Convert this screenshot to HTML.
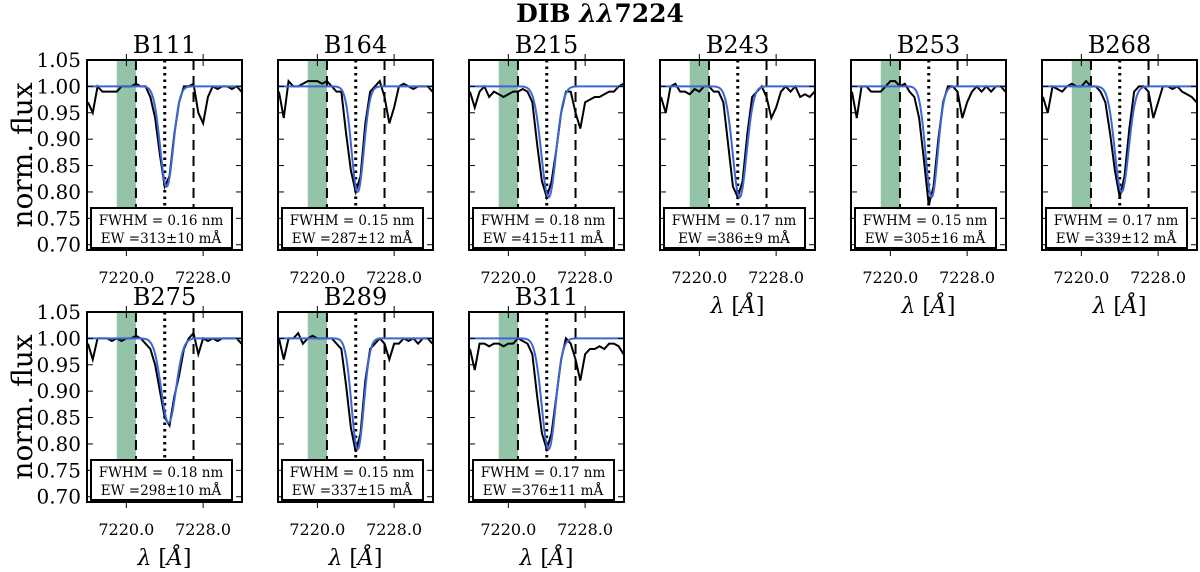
<!DOCTYPE html>
<html><head><meta charset="utf-8"><style>
body{margin:0;background:#fff;}
svg{display:block;font-family:"DejaVu Serif","Liberation Serif",serif;}
</style></head><body>
<svg id="fig" width="1200" height="572" viewBox="0 0 1200 572">
<text x="600" y="22" text-anchor="middle" font-size="25" font-weight="bold">DIB <tspan font-style="italic">λλ</tspan>7224</text>
</svg>
<script>
const names=["B111","B164","B215","B243","B253","B268","B275","B289","B311"];
const fwhmLabels=["0.16","0.15","0.18","0.17","0.15","0.17","0.18","0.15","0.17"];
const ewLabels=["313±10","287±12","415±11","386±9","305±16","339±12","298±10","337±15","376±11"];
const fitDepth=[0.19,0.20,0.21,0.21,0.21,0.20,0.16,0.21,0.21];
const fitCenter=[7224.2,7224.2,7224.2,7224.2,7224.3,7224.2,7224.4,7224.2,7224.2];
const fitFwhm=[1.6,1.5,1.8,1.7,1.5,1.7,1.8,1.5,1.7];
const waveStart=7216, waveStep=0.5;
const flux1=[0.97,0.95,1.00,0.99,0.99,0.99,0.99,1.00,1.00,1.00,1.005,1.00,1.00,0.98,0.94,0.87,0.81,0.83,0.91,0.97,1.00,1.00,1.005,0.95,0.93,0.98,1.00,0.995,1.00,1.00,0.995,1.00,0.99];
const flux2=[0.99,0.94,1.01,1.00,1.00,1.005,1.01,1.01,1.01,1.005,1.01,1.00,0.99,0.99,0.91,0.84,0.80,0.83,0.93,0.99,1.00,1.01,0.98,0.93,0.96,1.00,1.005,1.00,0.995,1.00,1.00,1.00,0.99];
const flux3=[0.99,0.96,0.99,1.00,0.98,0.99,0.985,0.98,0.985,0.99,0.99,0.995,0.99,0.97,0.89,0.82,0.79,0.82,0.88,0.95,0.99,0.99,0.95,0.92,0.97,0.975,0.98,0.98,0.985,0.99,0.99,1.00,1.005];
const flux4=[0.98,0.95,1.00,1.005,0.99,0.99,0.985,0.995,0.99,1.00,1.00,0.99,0.99,0.97,0.89,0.81,0.79,0.82,0.91,0.98,0.99,1.00,0.98,0.94,0.96,0.99,1.00,0.99,1.00,0.98,0.985,0.98,0.99];
const flux5=[0.99,0.94,1.00,1.00,0.99,0.99,0.99,1.00,1.01,1.01,1.00,1.005,0.99,0.98,0.94,0.86,0.775,0.81,0.90,0.97,1.00,1.00,0.99,0.94,0.97,0.99,1.00,0.99,1.00,0.99,1.00,1.00,0.99];
const flux6=[0.98,0.95,1.00,0.995,0.99,1.00,1.005,1.00,1.00,1.01,1.00,1.00,0.99,0.97,0.91,0.84,0.79,0.83,0.92,0.99,1.00,1.00,0.99,0.94,0.97,1.00,1.00,0.995,1.00,0.99,0.985,0.98,0.97];
const flux7=[0.99,0.96,1.00,1.00,1.00,0.995,1.00,0.995,1.00,1.00,1.005,1.00,0.99,0.98,0.95,0.90,0.85,0.835,0.89,0.93,0.98,1.00,1.01,0.97,1.00,0.995,1.00,0.995,1.00,1.00,1.00,1.00,0.99];
const flux8=[1.00,0.96,1.00,1.00,1.01,0.99,1.00,1.005,1.00,1.00,1.00,1.00,0.99,0.98,0.91,0.83,0.785,0.82,0.92,0.98,0.99,1.00,0.99,0.96,0.99,0.99,1.00,0.995,1.00,0.99,1.00,1.00,0.99];
const flux9=[0.98,0.94,0.99,0.99,0.985,0.99,0.99,0.985,0.99,0.99,1.00,0.995,0.99,0.97,0.89,0.82,0.79,0.82,0.89,0.96,1.00,0.99,0.96,0.92,0.97,0.98,0.98,0.985,0.98,0.99,0.99,0.985,0.97];
const fluxes=[flux1,flux2,flux3,flux4,flux5,flux6,flux7,flux8,flux9];
const yTicks=[0.70,0.75,0.80,0.85,0.90,0.95,1.00,1.05];
const xTicks=[7220,7228];
const restLine=7224.0, windowLines=[7221.0,7227.0], bandLo=7219.0, bandHi=7221.0;

const NS="http://www.w3.org/2000/svg";
const svg=document.getElementById('fig');
function mk(tag,attrs,parent){const e=document.createElementNS(NS,tag);for(const k in attrs)e.setAttribute(k,attrs[k]);(parent||svg).appendChild(e);return e;}
const X0=7215.9,X1=7232.05,Y0=0.69,Y1=1.05,W=155,H=190;

names.forEach((nm,i)=>{
  const col=i<6?i:i-6,row=i<6?0:1;
  const L=87+col*191,T=60+row*252;
  const sx=v=>L+(v-X0)/(X1-X0)*W;
  const sy=v=>T+H-(v-Y0)/(Y1-Y0)*H;
  const g=mk('g',{});
  
  
  const cid='clip'+i;
  const cp=mk('clipPath',{id:cid},g);mk('rect',{x:L,y:T,width:W,height:H},cp);
  const band=mk('rect',{x:sx(bandLo),y:T,width:sx(bandHi)-sx(bandLo),height:H,fill:'#93c4a8'},g);
  
  
  windowLines.forEach(w=>{const l=mk('line',{x1:sx(w),x2:sx(w),y1:T,y2:T+H,stroke:'#000','stroke-width':2,'stroke-dasharray':'10,6'},g);
    });
  const rl=mk('line',{x1:sx(restLine),x2:sx(restLine),y1:T,y2:T+H,stroke:'#000','stroke-width':3,'stroke-dasharray':'2.5,4'},g);
  
  const f=fluxes[i];
  const obs=mk('polyline',{points:f.map((v,k)=>sx(waveStart+k*waveStep)+','+sy(v)).join(' '),fill:'none',stroke:'#000','stroke-width':2,'clip-path':'url(#'+cid+')'},g);
  
  const sig=fitFwhm[i]/2.3548;let pts=[];
  for(let w=X0;w<=X1;w+=0.05){pts.push(sx(w)+','+sy(1-fitDepth[i]*Math.exp(-0.5*Math.pow((w-fitCenter[i])/sig,2))));}
  const fit=mk('polyline',{points:pts.join(' '),fill:'none',stroke:'#3d66d6','stroke-width':2,'clip-path':'url(#'+cid+')'},g);
  
  yTicks.forEach(t=>{const y=sy(t);
    mk('line',{x1:L,x2:L+6,y1:y,y2:y,stroke:'#000','stroke-width':1},g);
    mk('line',{x1:L+W-6,x2:L+W,y1:y,y2:y,stroke:'#000','stroke-width':1},g);
    if(col===0){const tl=mk('text',{x:L-6,y:y+7,'text-anchor':'end','font-size':20},g);tl.textContent=t.toFixed(2);
      }});
  xTicks.forEach(t=>{const x=sx(t);
    mk('line',{x1:x,x2:x,y1:T,y2:T+6,stroke:'#000','stroke-width':1},g);
    mk('line',{x1:x,x2:x,y1:T+H-6,y2:T+H,stroke:'#000','stroke-width':1},g);
    mk('line',{x1:x,x2:x,y1:T-6,y2:T,stroke:'#000','stroke-width':1},g);
    mk('line',{x1:x,x2:x,y1:T+H,y2:T+H+6,stroke:'#000','stroke-width':1},g);
    const xl=mk('text',{x:x,y:T+H+33,'text-anchor':'middle','font-size':16},g);xl.textContent=t.toFixed(1);
    });
  const bx=mk('rect',{x:L+4,y:T+148,width:141,height:40,fill:'#fff',stroke:'#000','stroke-width':2},g);
  
  const t1=mk('text',{x:L+74,y:T+165,'text-anchor':'middle','font-size':13.5},g);t1.textContent='FWHM = '+fwhmLabels[i]+' nm';
  
  const t2=mk('text',{x:L+74,y:T+183,'text-anchor':'middle','font-size':13.5},g);t2.textContent='EW ='+ewLabels[i]+' mÅ';
  
  mk('rect',{x:L,y:T,width:W,height:H,fill:'none',stroke:'#000','stroke-width':2},g);
  const tt=mk('text',{x:L+W/2,y:T-7,'text-anchor':'middle','font-size':24},g);tt.textContent=nm;
  
  if(row===1||col>=3){const xl=mk('text',{x:L+W/2,y:T+H+63,'text-anchor':'middle','font-size':22},g);
    xl.innerHTML='<tspan font-style="italic">λ</tspan> [<tspan font-style="italic">Å</tspan>]';
    }
  if(col===0){const yl=mk('text',{x:0,y:0,'text-anchor':'middle','font-size':28,transform:'translate(32,'+(T+H/2)+') rotate(-90)'},g);
    yl.textContent='norm. flux';}
});
</script>
</body></html>
